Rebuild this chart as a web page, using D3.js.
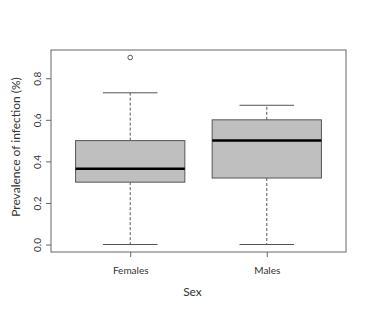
<!DOCTYPE html>
<meta charset="utf-8">
<script src="https://d3js.org/d3.v7.min.js"></script>
<style>
  body { margin: 0; background: #fff; }
  text { font-family: Lato, "Open Sans", sans-serif; fill: #333; }
</style>
<div id="chart"></div>
<script>

// box stats
const groups = ["Females", "Males"];
const lowerWhisker = [0.0, 0.0];
const q1 = [0.30, 0.32];
const median = [0.365, 0.50];
const q3 = [0.50, 0.60];
const upperWhisker = [0.73, 0.67];
const outliers = [[0.90], []];
const yTicks = [0.0, 0.2, 0.4, 0.6, 0.8];

const width = 373, height = 316;
const plot = {left: 51, right: 346, top: 50, bottom: 252};

const svg = d3.select("#chart").append("svg")
    .attr("width", width)
    .attr("height", height);

// R style: 4% expansion each side
const x = d3.scaleLinear().domain([0.42, 2.58]).range([plot.left, plot.right]);
const y = d3.scaleLinear().domain([-0.036, 0.936]).range([plot.bottom, plot.top]);

const boxW = 0.4, capW = 0.2;

const boxes = svg.selectAll(".box")
    .data(groups)
    .join("g")
    .attr("class", "box");

// dashed whiskers
boxes.append("line")
    .attr("x1", (d, i) => x(i + 1)).attr("x2", (d, i) => x(i + 1))
    .attr("y1", (d, i) => y(q3[i])).attr("y2", (d, i) => y(upperWhisker[i]))
    .attr("stroke", "#555").attr("stroke-dasharray", "3,2");
boxes.append("line")
    .attr("x1", (d, i) => x(i + 1)).attr("x2", (d, i) => x(i + 1))
    .attr("y1", (d, i) => y(q1[i])).attr("y2", (d, i) => y(lowerWhisker[i]))
    .attr("stroke", "#555").attr("stroke-dasharray", "3,2");

// caps
boxes.append("line")
    .attr("x1", (d, i) => x(i + 1 - capW)).attr("x2", (d, i) => x(i + 1 + capW))
    .attr("y1", (d, i) => y(upperWhisker[i])).attr("y2", (d, i) => y(upperWhisker[i]))
    .attr("stroke", "#555");
boxes.append("line")
    .attr("x1", (d, i) => x(i + 1 - capW)).attr("x2", (d, i) => x(i + 1 + capW))
    .attr("y1", (d, i) => y(lowerWhisker[i])).attr("y2", (d, i) => y(lowerWhisker[i]))
    .attr("stroke", "#555");

// box
boxes.append("rect")
    .attr("x", (d, i) => x(i + 1 - boxW))
    .attr("width", x(1 + boxW) - x(1 - boxW))
    .attr("y", (d, i) => y(q3[i]))
    .attr("height", (d, i) => y(q1[i]) - y(q3[i]))
    .attr("fill", "#bfbfbf")
    .attr("stroke", "#555");

// median
boxes.append("line")
    .attr("x1", (d, i) => x(i + 1 - boxW)).attr("x2", (d, i) => x(i + 1 + boxW))
    .attr("y1", (d, i) => y(median[i])).attr("y2", (d, i) => y(median[i]))
    .attr("stroke", "#000").attr("stroke-width", 2.5);

// outliers
boxes.each(function(d, i) {
    d3.select(this).selectAll("circle")
        .data(outliers[i])
        .join("circle")
        .attr("cx", x(i + 1))
        .attr("cy", v => y(v))
        .attr("r", 2.3)
        .attr("fill", "none")
        .attr("stroke", "#555");
});

// frame
svg.append("rect")
    .attr("x", plot.left).attr("y", plot.top)
    .attr("width", plot.right - plot.left)
    .attr("height", plot.bottom - plot.top)
    .attr("fill", "none").attr("stroke", "#666");

// y axis
const yAxis = svg.append("g")
    .attr("transform", `translate(${plot.left},0)`)
    .call(d3.axisLeft(y).tickValues(yTicks).tickFormat(d3.format(".1f")).tickSize(5).tickSizeOuter(0).tickPadding(0));
yAxis.select(".domain").remove();
yAxis.selectAll(".tick line").attr("stroke", "#666");
yAxis.selectAll(".tick text")
    .attr("transform", "rotate(-90)")
    .attr("x", 0).attr("y", -10)
    .attr("dy", 0)
    .attr("text-anchor", "middle")
    .style("font-size", "10px");

// x axis
const xAxis = svg.append("g")
    .attr("transform", `translate(0,${plot.bottom})`)
    .call(d3.axisBottom(x).tickValues([1, 2]).tickFormat((d, i) => groups[i]).tickSize(5).tickPadding(10));
xAxis.select(".domain").remove();
xAxis.selectAll(".tick line").attr("stroke", "#666");
xAxis.selectAll(".tick text").style("font-size", "10px");

// titles
svg.append("text")
    .attr("x", 192.5).attr("y", 296)
    .attr("text-anchor", "middle")
    .style("font-size", "12px")
    .text("Sex");

svg.append("text")
    .attr("transform", "translate(20,147) rotate(-90)")
    .attr("text-anchor", "middle")
    .style("font-size", "12px")
    .text("Prevalence of infection (%)");

</script>
